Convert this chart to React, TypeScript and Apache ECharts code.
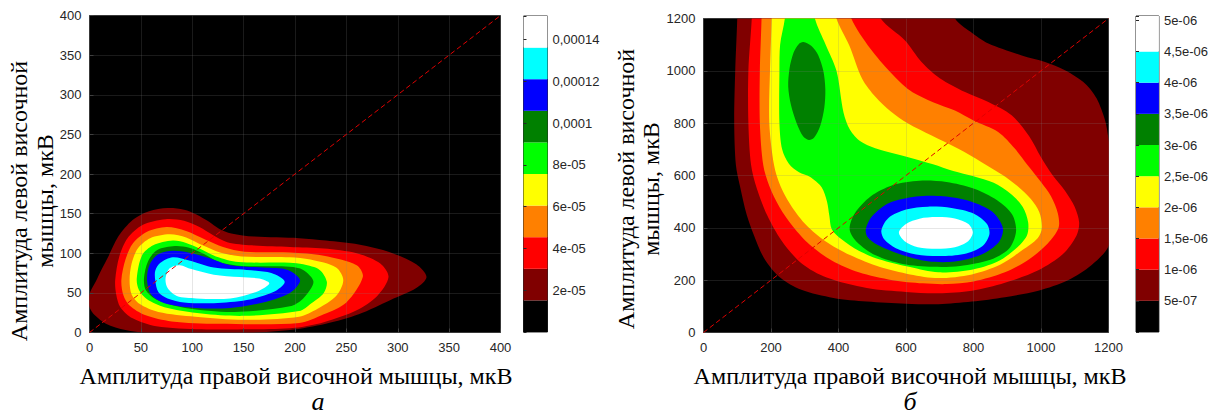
import React, { useEffect, useRef } from "react";
import * as echarts from "echarts";

// ---------- colours of the 10 contour bands (lowest to highest) ----------
const BAND_COLORS = ["#000000", "#800000", "#ff0000", "#ff8000", "#ffff00", "#00ff00", "#008000", "#0000ff", "#00ffff", "#ffffff"];

// ---------- colour bars ----------
const LEFT_LEVELS = [0, 1.513e-5, 3.026e-5, 4.539e-5, 6.052e-5, 7.565e-5, 9.078e-5, 1.0591e-4, 1.2104e-4, 1.3617e-4, 1.513e-4];
const LEFT_CB_TICKS = [2e-5, 4e-5, 6e-5, 8e-5, 1e-4, 1.2e-4, 1.4e-4];
const LEFT_CB_LABELS = ["2e-05", "4e-05", "6e-05", "8e-05", "0,0001", "0,00012", "0,00014"];

const RIGHT_LEVELS = [0, 5e-7, 1e-6, 1.5e-6, 2e-6, 2.5e-6, 3e-6, 3.5e-6, 4e-6, 4.5e-6, 5.07e-6];
const RIGHT_CB_TICKS = [5e-7, 1e-6, 1.5e-6, 2e-6, 2.5e-6, 3e-6, 3.5e-6, 4e-6, 4.5e-6, 5e-6];
const RIGHT_CB_LABELS = ["5e-07", "1e-06", "1,5e-06", "2e-06", "2,5e-06", "3e-06", "3,5e-06", "4e-06", "4,5e-06", "5e-06"];

// ---------- diagonal reference lines ----------
const DIAG_LEFT = [[0, 0], [400, 400]];
const DIAG_RIGHT = [[0, 0], [1200, 1200]];

// ---------- chart "а": contour outlines (x = right muscle, y = left muscle, µV) ----------
const A_L1 = [[-1, 42], [1, 52], [6, 64], [12, 80], [18, 95], [28, 121], [42, 142], [58, 153], [76, 157], [92, 155], [104, 149], [116, 140], [126, 131], [138, 125], [160, 121], [204, 119], [230, 116], [262, 111], [293, 101], [318, 86], [328, 70], [318, 56], [293, 41], [262, 23], [230, 11], [195, 3], [150, -1], [100, -2], [60, -1], [35, 3], [16, 11], [5, 22], [0, 32]];
const A_L2 = [[25, 66], [26, 48], [30, 32], [42, 18], [65, 8], [109, 4], [158, 4], [200, 6], [228, 13], [260, 28], [280, 46], [291, 70], [283, 87], [260, 100], [228, 106], [195, 108], [158, 110], [134, 114], [120, 123], [107, 133], [92, 141], [74, 143], [52, 136], [37, 119], [29, 96]];
const A_L3 = [[31, 66], [33, 47], [39, 34], [54, 22], [80, 14], [125, 11], [204, 12], [228, 23], [250, 38], [266, 70], [260, 85], [228, 97], [195, 101], [151, 102], [130, 108], [113, 117], [94, 128], [75, 133], [56, 127], [42, 112], [35, 92]];
const A_L4 = [[39, 66], [41, 48], [49, 36], [67, 26], [103, 20], [150, 16], [204, 20], [222, 30], [240, 46], [247, 66], [240, 82], [215, 92], [195, 95], [148, 96], [127, 101], [110, 110], [94, 120], [78, 124], [59, 119], [47, 106], [41, 87]];
const A_L5 = [[46, 68], [48, 54], [56, 42], [73, 32], [109, 24], [150, 21], [204, 27], [216, 37], [228, 50], [231, 64], [224, 79], [208, 86], [195, 88], [145, 89], [123, 96], [107, 106], [94, 113], [81, 116], [62, 110], [51, 97]];
const A_L6 = [[53, 68], [55, 53], [66, 41], [93, 31], [141, 26], [195, 33], [208, 43], [218, 64], [208, 79], [195, 83], [148, 84], [126, 89], [110, 100], [97, 107], [83, 109], [66, 104], [57, 90]];
const A_L7 = [[56, 66], [60, 48], [73, 37], [104, 31], [137, 31], [169, 38], [195, 50], [205, 66], [193, 79], [169, 82], [137, 85], [116, 94], [96, 101], [80, 103], [66, 98], [58, 84]];
const A_L8 = [[64, 66], [67, 51], [76, 43], [92, 38], [121, 37], [153, 41], [179, 51], [190, 64], [177, 75], [153, 79], [121, 82], [97, 91], [81, 95], [69, 88], [64, 78]];
const A_L9 = [[74, 68], [76, 56], [85, 46], [104, 43], [137, 43], [164, 52], [175, 62], [165, 68], [146, 70], [121, 73], [99, 80], [88, 85], [78, 81]];

// ---------- chart "б": contour outlines ----------
const B_L1 = [[100, 1260], [100, 1200], [94, 1000], [91, 800], [96, 640], [108, 560], [128, 450], [150, 370], [180, 283], [227, 210], [290, 163], [385, 132], [484, 118], [600, 110], [696, 108], [795, 118], [893, 135], [992, 160], [1080, 200], [1150, 258], [1200, 330], [1215, 450], [1215, 620], [1200, 740], [1190, 810], [1165, 894], [1131, 951], [1071, 1002], [1012, 1034], [943, 1059], [844, 1104], [790, 1150], [745, 1200], [740, 1260]];
const B_L2 = [[143, 1260], [143, 1200], [133, 1000], [133, 800], [141, 640], [158, 550], [188, 450], [232, 350], [290, 265], [365, 210], [484, 170], [600, 155], [696, 150], [795, 160], [893, 190], [992, 238], [1065, 300], [1105, 370], [1113, 420], [1100, 480], [1072, 540], [1035, 600], [1000, 670], [965, 750], [913, 830], [844, 881], [775, 919], [700, 972], [646, 1034], [597, 1116], [525, 1200], [520, 1260]];
const B_L3 = [[172, 1260], [172, 1200], [167, 1000], [167, 800], [177, 640], [195, 560], [225, 480], [265, 405], [315, 335], [380, 275], [460, 230], [560, 200], [650, 188], [720, 185], [800, 195], [893, 230], [965, 280], [1020, 340], [1052, 400], [1050, 455], [1030, 520], [1000, 575], [960, 640], [923, 702], [873, 766], [800, 810], [745, 848], [680, 880], [612, 925], [553, 996], [494, 1085], [438, 1200], [435, 1260]];
const B_L4 = [[202, 1260], [202, 1200], [197, 1000], [195, 800], [209, 640], [228, 560], [262, 480], [305, 410], [360, 350], [434, 296], [523, 250], [612, 222], [696, 208], [795, 222], [880, 260], [945, 315], [990, 360], [1003, 400], [995, 460], [970, 510], [930, 560], [885, 603], [824, 651], [755, 702], [676, 753], [605, 800], [555, 845], [510, 900], [470, 970], [432, 1097], [394, 1200], [392, 1260]];
const B_L5 = [[241, 1260], [241, 1200], [227, 1100], [225, 1000], [225, 800], [233, 700], [253, 645], [283, 612], [315, 595], [350, 555], [366, 500], [373, 445], [380, 395], [408, 357], [460, 312], [520, 280], [612, 250], [696, 230], [795, 240], [870, 270], [925, 320], [958, 370], [962, 420], [946, 480], [910, 530], [860, 572], [800, 597], [740, 617], [680, 643], [612, 668], [523, 698], [466, 730], [434, 775], [415, 840], [394, 1000], [362, 1100], [330, 1200], [328, 1260]];
const B_L6_TOP = [[296, 1110], [320, 1095], [340, 1060], [355, 1000], [361, 930], [358, 860], [346, 790], [328, 745], [312, 736], [295, 750], [276, 800], [259, 870], [251, 940], [255, 1010], [267, 1070], [282, 1102]];
const B_L6_LOW = [[433, 394], [448, 455], [495, 520], [560, 563], [640, 580], [720, 575], [800, 550], [870, 505], [915, 450], [926, 385], [905, 320], [850, 278], [760, 254], [680, 251], [590, 262], [510, 295], [455, 345]];
const B_L7 = [[481, 395], [500, 445], [550, 495], [630, 520], [710, 521], [790, 502], [855, 462], [887, 400], [875, 345], [822, 297], [745, 271], [665, 272], [585, 298], [515, 335], [486, 365]];
const B_L8 = [[527, 390], [548, 438], [600, 470], [665, 481], [735, 476], [800, 455], [840, 415], [847, 375], [826, 330], [772, 300], [700, 292], [630, 298], [570, 322], [536, 355]];
const B_L9 = [[579, 383], [600, 415], [640, 435], [690, 441], [745, 436], [785, 415], [798, 383], [785, 350], [745, 326], [690, 320], [635, 326], [595, 350]];

const A_POLYS = [A_L1, A_L2, A_L3, A_L4, A_L5, A_L6, A_L7, A_L8, A_L9];
const A_COLORS = [1, 2, 3, 4, 5, 6, 7, 8, 9].map((i) => BAND_COLORS[i]);
const B_POLYS = [B_L1, B_L2, B_L3, B_L4, B_L5, B_L6_TOP, B_L6_LOW, B_L7, B_L8, B_L9];
const B_COLORS = [1, 2, 3, 4, 5, 6, 6, 7, 8, 9].map((i) => BAND_COLORS[i]);

const X_TITLE = "Амплитуда правой височной мышцы, мкВ";
const Y_TITLE_1 = "Амплитуда левой височной";
const Y_TITLE_2 = "мышцы, мкВ";

const SANS = "'Liberation Sans', Arial, sans-serif";
const SERIF = "'Liberation Serif', 'Times New Roman', serif";
const TICK_COLOR = "#262626";

function contourSeries(axisIndex: number, polys: number[][][], colors: string[]) {
  return {
    type: "custom",
    xAxisIndex: axisIndex,
    yAxisIndex: axisIndex,
    clip: true,
    silent: true,
    z: 2,
    data: polys.map((_, i) => [i, 0]),
    renderItem: (params: any, api: any) => {
      const i = params.dataIndex;
      const pts = polys[i].map((p) => api.coord(p));
      return {
        type: "polygon",
        shape: { points: pts, smooth: 0.3 },
        style: { fill: colors[i], stroke: null },
      };
    },
  };
}

function colorbarSeries(axisIndex: number, levels: number[]) {
  return {
    type: "custom",
    xAxisIndex: axisIndex,
    yAxisIndex: axisIndex,
    silent: true,
    z: 2,
    data: levels.slice(0, -1).map((_, i) => [i, 0]),
    renderItem: (params: any, api: any) => {
      const i = params.dataIndex;
      const p0 = api.coord([0, levels[i]]);
      const p1 = api.coord([1, levels[i + 1]]);
      return {
        type: "rect",
        shape: { x: p0[0], y: p1[1], width: p1[0] - p0[0], height: p0[1] - p1[1] },
        style: { fill: BAND_COLORS[i], stroke: null },
      };
    },
  };
}

function plotAxis(grid: number, max: number, interval: number) {
  return {
    gridIndex: grid,
    type: "value",
    min: 0,
    max,
    interval,
    z: 3,
    axisLine: { show: false },
    axisTick: { show: true, inside: true, length: 4, lineStyle: { color: "#404040" } },
    axisLabel: { color: TICK_COLOR, fontSize: 13, fontFamily: SANS, margin: 8, formatter: (v: number) => String(v) },
    splitLine: { show: true, lineStyle: { color: "rgba(128,128,128,0.2)", width: 1 } },
  };
}

function cbAxis(grid: number, levels: number[], interval: number, ticks: number[], labels: string[]) {
  return {
    gridIndex: grid,
    type: "value",
    position: "right",
    min: 0,
    max: levels[levels.length - 1],
    interval,
    z: 3,
    axisLine: { show: false },
    axisTick: { show: true, inside: false, length: 3, lineStyle: { color: TICK_COLOR } },
    axisLabel: {
      color: TICK_COLOR,
      fontSize: 13,
      fontFamily: SANS,
      margin: 5,
      formatter: (v: number) => {
        const k = ticks.findIndex((t) => Math.abs(t - v) < t * 1e-3);
        return k >= 0 ? labels[k] : "";
      },
    },
    splitLine: { show: false },
  };
}

function text(x: number, y: number, str: string, font: string, rotation = 0) {
  return {
    type: "text",
    x,
    y,
    rotation,
    silent: true,
    style: { text: str, font, fill: "#000000", textAlign: "center", textVerticalAlign: "middle", verticalAlign: "middle", align: "center" },
  };
}

export default function App() {
  const ref = useRef<HTMLDivElement>(null);
  useEffect(() => {
    if (!ref.current) return;
    const chart = echarts.init(ref.current, undefined, { renderer: "svg" });
    const grids = [
      { left: 89.5, top: 15.5, width: 411, height: 317, show: true, backgroundColor: "#000000", borderColor: "#262626", borderWidth: 1 },
      { left: 523.5, top: 16, width: 24, height: 316, show: true, backgroundColor: "transparent", borderColor: "#262626", borderWidth: 1 },
      { left: 703.5, top: 18.5, width: 405, height: 314, show: true, backgroundColor: "#000000", borderColor: "#262626", borderWidth: 1 },
      { left: 1136, top: 16, width: 24, height: 316, show: true, backgroundColor: "transparent", borderColor: "#262626", borderWidth: 1 },
    ];
    const titleFont = `24px ${SERIF}`;
    const option: any = {
      animation: false,
      backgroundColor: "#ffffff",
      grid: grids,
      xAxis: [
        plotAxis(0, 400, 50),
        { gridIndex: 1, type: "value", min: 0, max: 1, show: false },
        plotAxis(2, 1200, 200),
        { gridIndex: 3, type: "value", min: 0, max: 1, show: false },
      ],
      yAxis: [
        plotAxis(0, 400, 50),
        cbAxis(1, LEFT_LEVELS, 2e-5, LEFT_CB_TICKS, LEFT_CB_LABELS),
        plotAxis(2, 1200, 200),
        cbAxis(3, RIGHT_LEVELS, 5e-7, RIGHT_CB_TICKS, RIGHT_CB_LABELS),
      ],
      series: [
        contourSeries(0, A_POLYS, A_COLORS),
        colorbarSeries(1, LEFT_LEVELS),
        contourSeries(2, B_POLYS, B_COLORS),
        colorbarSeries(3, RIGHT_LEVELS),
        {
          type: "line", xAxisIndex: 0, yAxisIndex: 0, data: DIAG_LEFT, symbol: "none", silent: true, z: 5,
          lineStyle: { color: "#e00000", width: 1, type: [5, 3] },
        },
        {
          type: "line", xAxisIndex: 2, yAxisIndex: 2, data: DIAG_RIGHT, symbol: "none", silent: true, z: 5,
          lineStyle: { color: "#e00000", width: 1, type: [5, 3] },
        },
      ],
      graphic: [
        text(296, 376, X_TITLE, titleFont),
        text(910, 376, X_TITLE, titleFont),
        text(19, 201, Y_TITLE_1, titleFont, Math.PI / 2),
        text(44.5, 201, Y_TITLE_2, titleFont, Math.PI / 2),
        text(625.5, 189, Y_TITLE_1, titleFont, Math.PI / 2),
        text(651, 189, Y_TITLE_2, titleFont, Math.PI / 2),
        text(318, 401, "а", `italic 26px ${SERIF}`),
        text(910, 401, "б", `italic 26px ${SERIF}`),
      ],
    };
    chart.setOption(option);
    return () => chart.dispose();
  }, []);
  return <div ref={ref} style={{ position: "absolute", left: 0, top: 0, width: 1211, height: 415 }} />;
}
